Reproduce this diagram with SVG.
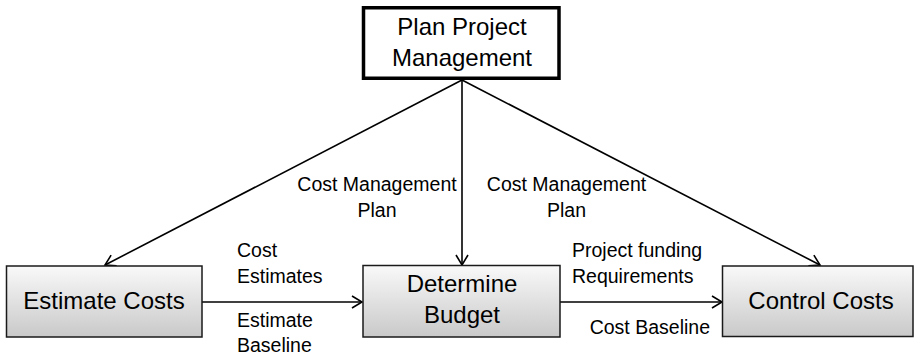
<svg xmlns="http://www.w3.org/2000/svg" width="914" height="358" viewBox="0 0 914 358">
<style>
  text { font-family: "Liberation Sans", Arial, sans-serif; fill: #000; }
  .big { font-size: 24px; text-anchor: middle; }
  .lbl { font-size: 19.5px; }
  .mid { text-anchor: middle; }
  .box { fill: url(#g); stroke: #1a1a1a; stroke-width: 1.5; }
  .conn { stroke: #000; stroke-width: 1.6; fill: none; marker-end: url(#arr); }
</style>
<defs>
  <linearGradient id="g" x1="0" y1="0" x2="0" y2="1">
    <stop offset="0" stop-color="#f9f9f9"/>
    <stop offset="1" stop-color="#c9c9c9"/>
  </linearGradient>
  <marker id="arr" markerUnits="userSpaceOnUse" markerWidth="16" markerHeight="16" refX="11" refY="7" orient="auto">
    <path d="M1,1 L11,7 L1,13" fill="none" stroke="#000" stroke-width="1.6"/>
  </marker>
</defs>
<g id="connectors">
  <line class="conn" x1="462" y1="80" x2="462" y2="265"/>
  <line class="conn" x1="462" y1="80" x2="105" y2="265"/>
  <line class="conn" x1="462" y1="80" x2="820" y2="265"/>
  <line class="conn" x1="202" y1="302" x2="362" y2="302"/>
  <line class="conn" x1="560" y1="302" x2="722" y2="302"/>
</g>
<g id="plan">
  <rect x="363.5" y="7.75" width="195.5" height="70.5" fill="#fff" stroke="#000" stroke-width="3.5"/>
  <text class="big" x="462" y="34.5">Plan Project</text>
  <text class="big" x="462" y="66">Management</text>
</g>
<g id="estimate">
  <rect class="box" x="6.5" y="266" width="195.5" height="71"/>
  <text class="big" x="104" y="309">Estimate Costs</text>
</g>
<g id="determine">
  <rect class="box" x="363" y="265.5" width="197" height="71.5"/>
  <text class="big" x="462" y="291.5">Determine</text>
  <text class="big" x="462" y="323">Budget</text>
</g>
<g id="control">
  <rect class="box" x="722.5" y="266" width="190.5" height="70.5"/>
  <text class="big" x="821" y="308.5">Control Costs</text>
</g>
<g id="labels">
  <text class="lbl mid" x="377" y="190.5">Cost Management</text>
  <text class="lbl mid" x="377" y="216.5">Plan</text>
  <text class="lbl mid" x="566.5" y="190.5">Cost Management</text>
  <text class="lbl mid" x="566.5" y="216.5">Plan</text>
  <text class="lbl" x="237" y="257">Cost</text>
  <text class="lbl" x="237" y="283">Estimates</text>
  <text class="lbl" x="237" y="327">Estimate</text>
  <text class="lbl" x="237" y="352">Baseline</text>
  <text class="lbl" x="572" y="257">Project funding</text>
  <text class="lbl" x="572" y="283">Requirements</text>
  <text class="lbl" x="710" y="333.5" text-anchor="end">Cost Baseline</text>
</g>
</svg>
